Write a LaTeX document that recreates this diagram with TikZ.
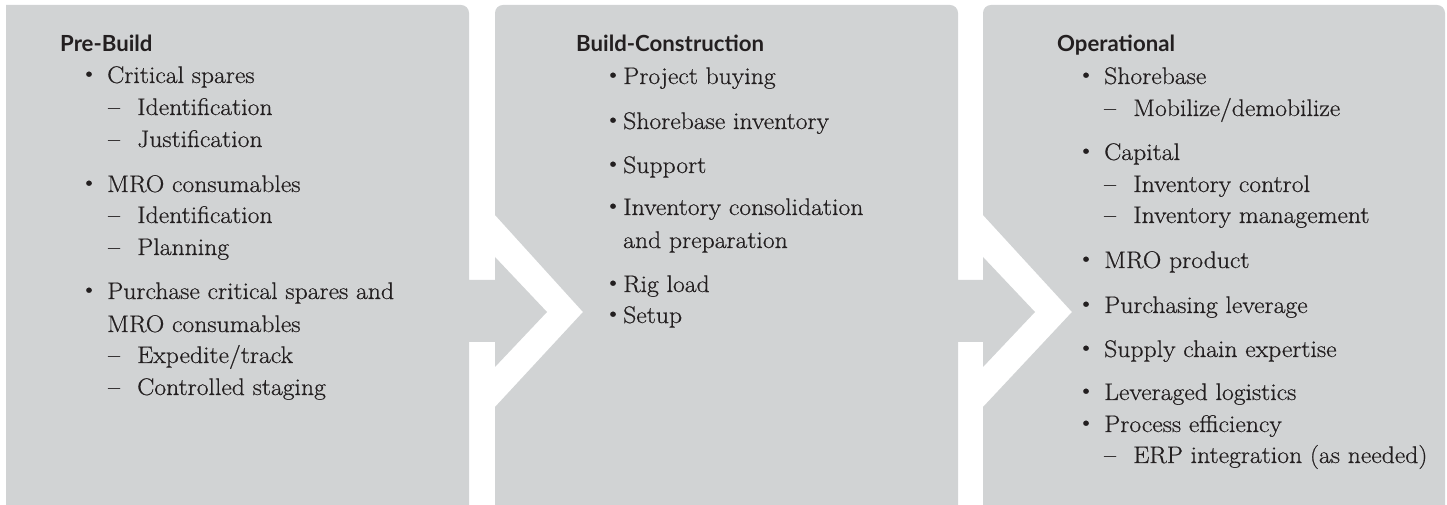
\documentclass[tikz,border=0pt]{standalone}
\usepackage{fontspec}
\newfontfamily\bodyfont{Latin Modern Roman}[FakeStretch=1.07, FakeBold=0.6]
\newfontfamily\headfont{Lato}
\definecolor{panelgray}{HTML}{D1D3D4}
\definecolor{ink}{HTML}{231F20}
\tikzset{
  panel/.style={fill=panelgray, draw=none},
  head/.style={anchor=base west, inner sep=0pt, text=ink, font=\headfont\bfseries\fontsize{22.2}{22}\selectfont},
  item/.style={anchor=base west, inner sep=0pt, text=ink, font=\bodyfont\fontsize{24}{24}\selectfont},
  bul/.style={anchor=center, inner sep=0pt, text=ink, font=\bodyfont\fontsize{23}{23}\selectfont},
}
\begin{document}
\begin{tikzpicture}[x=1pt,y=1pt]
\useasboundingbox (0,0) rectangle (1447,505);
% panel 1
\fill[panel] (6,0) -- (6,500) -- (461,500) arc[start angle=90,end angle=0,radius=8]
  -- (469,225) -- (495,225) -- (495,248) -- (547,193) -- (495,138) -- (495,163) -- (469,163) -- (469,0) -- cycle;
% panel 2
\fill[panel] (495,0) -- (495,98) -- (583,193) -- (495,290) -- (495,492)
  arc[start angle=180,end angle=90,radius=8] -- (950,500) arc[start angle=90,end angle=0,radius=8]
  -- (958,225) -- (983,225) -- (983,248) -- (1035,193) -- (983,138) -- (983,163) -- (958,163) -- (958,0) -- cycle;
% panel 3
\fill[panel] (983,0) -- (983,98) -- (1072,193) -- (983,290) -- (983,492)
  arc[start angle=180,end angle=90,radius=8] -- (1437,500) arc[start angle=90,end angle=0,radius=8]
  -- (1445,0) -- cycle;

% ---- Pre-Build
\node[head] (h1) at (60,453) {Pre-Build};
\node[bul] (p1b1) at (89,429) {\textbullet};
\node[item] (p1t1) at (107,422) {Critical spares};
\node[item] (p1d1) at (108,390) {–};
\node[item] (p1s1) at (137,390) {Identification};
\node[item] (p1d2) at (108,358) {–};
\node[item] (p1s2) at (137,358) {Justification};
\node[bul] (p1b2) at (89,320) {\textbullet};
\node[item] (p1t2) at (107,313) {MRO consumables};
\node[item] (p1d3) at (108,282) {–};
\node[item] (p1s3) at (137,282) {Identification};
\node[item] (p1d4) at (108,250) {–};
\node[item] (p1s4) at (137,250) {Planning};
\node[bul] (p1b3) at (89,213) {\textbullet};
\node[item] (p1t3) at (107,206) {Purchase critical spares and};
\node[item] (p1t3b) at (107,173) {MRO consumables};
\node[item] (p1d5) at (108,142) {–};
\node[item] (p1s5) at (137,142) {Expedite/track};
\node[item] (p1d6) at (108,110) {–};
\node[item] (p1s6) at (137,110) {Controlled staging};

% ---- Build-Construction
\node[head] (h2) at (576,453) {Build-Construction};
\node[bul] (p2b1) at (613,428) {\textbullet};
\node[item] (p2t1) at (623,421) {Project buying};
\node[bul] (p2b2) at (613,383) {\textbullet};
\node[item] (p2t2) at (623,376) {Shorebase inventory};
\node[bul] (p2b3) at (613,339) {\textbullet};
\node[item] (p2t3) at (623,332) {Support};
\node[bul] (p2b4) at (613,297) {\textbullet};
\node[item] (p2t4) at (623,290) {Inventory consolidation};
\node[item] (p2t4b) at (623,257) {and preparation};
\node[bul] (p2b5) at (613,220) {\textbullet};
\node[item] (p2t5) at (623,213) {Rig load};
\node[bul] (p2b6) at (613,189) {\textbullet};
\node[item] (p2t6) at (623,182) {Setup};

% ---- Operational
\node[head] (h3) at (1057,453) {Operational};
\node[bul] (p3b1) at (1086,428) {\textbullet};
\node[item] (p3t1) at (1104,421) {Shorebase};
\node[item] (p3d1) at (1104,389) {–};
\node[item] (p3s1) at (1133,389) {Mobilize/demobilize};
\node[bul] (p3b2) at (1086,352) {\textbullet};
\node[item] (p3t2) at (1104,345) {Capital};
\node[item] (p3d2) at (1104,313) {–};
\node[item] (p3s2) at (1133,313) {Inventory control};
\node[item] (p3d3) at (1104,282) {–};
\node[item] (p3s3) at (1133,282) {Inventory management};
\node[bul] (p3b3) at (1086,244) {\textbullet};
\node[item] (p3t3) at (1104,237) {MRO product};
\node[bul] (p3b4) at (1086,199) {\textbullet};
\node[item] (p3t4) at (1104,192) {Purchasing leverage};
\node[bul] (p3b5) at (1086,155) {\textbullet};
\node[item] (p3t5) at (1104,148) {Supply chain expertise};
\node[bul] (p3b6) at (1086,112) {\textbullet};
\node[item] (p3t6) at (1104,105) {Leveraged logistics};
\node[bul] (p3b7) at (1086,80) {\textbullet};
\node[item] (p3t7) at (1104,73) {Process efficiency};
\node[item] (p3d4) at (1104,42) {–};
\node[item] (p3s4) at (1133,42) {ERP integration (as needed)};
\end{tikzpicture}
\end{document}
